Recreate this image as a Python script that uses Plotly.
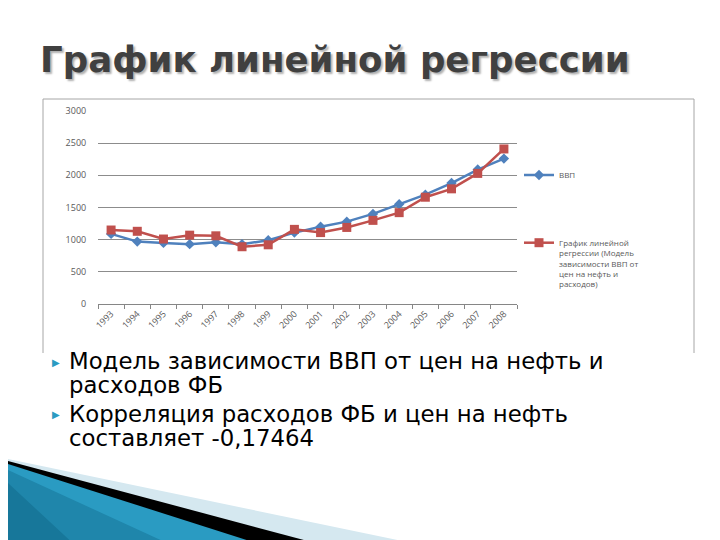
import plotly.graph_objects as go

years = ["1993", "1994", "1995", "1996", "1997", "1998", "1999", "2000",
         "2001", "2002", "2003", "2004", "2005", "2006", "2007", "2008"]
gdp = [1090, 970, 950, 930, 960, 930, 990, 1110,
       1200, 1280, 1400, 1550, 1700, 1880, 2090, 2260]
regression = [1150, 1130, 1010, 1070, 1060, 890, 920, 1160,
              1110, 1190, 1300, 1420, 1660, 1790, 2030, 2410]

name_gdp = "ВВП"
name_reg = "График линейной<br>регрессии (Модель<br>зависимости ВВП от<br>цен на нефть и<br>расходов)"
title_text = "График линейной регрессии"
bullets = [
    ("Модель зависимости ВВП от цен на нефть и", "расходов ФБ"),
    ("Корреляция расходов ФБ и цен на нефть", "составляет -0,17464"),
]

W, H = 720, 540
L, R, T, B = 90, 509, 103, 296


def px(x):
    return (x - L) / (R - L)


def py(y):
    return (B - y) / (B - T)


fig = go.Figure()
fig.add_trace(go.Scatter(
    x=years, y=gdp, name=name_gdp, mode="lines+markers",
    line=dict(color="#4F81BD", width=2.5),
    marker=dict(symbol="diamond", size=8, color="#4F81BD"),
    legend="legend", showlegend=True,
))
fig.add_trace(go.Scatter(
    x=years, y=regression, name=name_reg, mode="lines+markers",
    line=dict(color="#C0504D", width=2.5),
    marker=dict(symbol="square", size=9, color="#C0504D"),
    legend="legend2", showlegend=True,
))

shapes = []
frame_col = "#A6A6A6"
shapes.append(dict(type="path", xref="paper", yref="paper",
                   path=f"M {px(35)} {py(345)} L {px(35)} {py(91)} L {px(686)} {py(91)} L {px(686)} {py(345)}",
                   line=dict(color=frame_col, width=1)))


def poly(pts, color):
    d = "M " + " L ".join(f"{px(a)} {py(b)}" for a, b in pts) + " Z"
    return dict(type="path", xref="paper", yref="paper", path=d,
                fillcolor=color, line=dict(width=0), layer="above")


shapes.append(poly([(0, 451), (428, 540), (0, 540)], "#D5E8F0"))
shapes.append(poly([(0, 453), (326, 540), (0, 540)], "#000000"))
shapes.append(poly([(0, 456), (264, 540), (0, 540)], "#2A9BC2"))
shapes.append(poly([(0, 462), (170, 540), (0, 540)], "#1F86AB"))
shapes.append(poly([(0, 475), (70, 540), (0, 540)], "#17779A"))

annotations = [dict(
    text=title_text, xref="paper", yref="paper", x=px(30), y=py(52),
    xanchor="left", yanchor="middle", showarrow=False,
    font=dict(family="DejaVu Sans", size=35.6, weight="bold", color="#404040",
              shadow="2px 2px 2px #b0b0b0"),
)]
line_y = [(353, 376.5), (405.5, 429.5)]
for (l1, l2), (y1, y2) in zip(bullets, line_y):
    annotations.append(dict(text="▶", xref="paper", yref="paper", x=px(42), y=py(y1 + 1),
                            xanchor="left", yanchor="middle", showarrow=False,
                            font=dict(family="DejaVu Sans", size=10, color="#2A9BC2")))
    for txt, yy in ((l1, y1), (l2, y2)):
        annotations.append(dict(text=txt, xref="paper", yref="paper", x=px(59), y=py(yy),
                                xanchor="left", yanchor="middle", showarrow=False,
                                font=dict(family="DejaVu Sans", size=22.8, color="#000000")))

fig.update_layout(
    width=W, height=H,
    margin=dict(l=L, r=W - R, t=T, b=H - B, pad=0),
    paper_bgcolor="white", plot_bgcolor="white",
    font=dict(family="Open Sans", size=9, color="#595959"),
    shapes=shapes, annotations=annotations,
    showlegend=True,
    legend=dict(x=px(511), y=py(167), xanchor="left", yanchor="middle",
                font=dict(size=8, color="#595959"), bgcolor="rgba(0,0,0,0)",
                itemwidth=30, visible=True),
    legend2=dict(x=px(511), y=py(223), xanchor="left", yanchor="top",
                 font=dict(size=8, color="#595959"), bgcolor="rgba(0,0,0,0)",
                 valign="top", itemwidth=30, visible=True),
    xaxis=dict(type="category", range=[-0.5, 15.5], tickangle=-45,
               ticks="outside", tickson="boundaries", ticklen=4,
               tickcolor="#868686", showline=True, linecolor="#868686",
               showgrid=False, tickfont=dict(size=9, color="#595959")),
    yaxis=dict(range=[0, 3000], dtick=500, tick0=0, showgrid=True,
               gridcolor="#8C8C8C", gridwidth=1, zeroline=False,
               ticks="outside", ticklen=9, tickcolor="rgba(0,0,0,0)",
               showline=False, tickfont=dict(size=9, color="#595959")),
)

fig.write_html("out.html")
